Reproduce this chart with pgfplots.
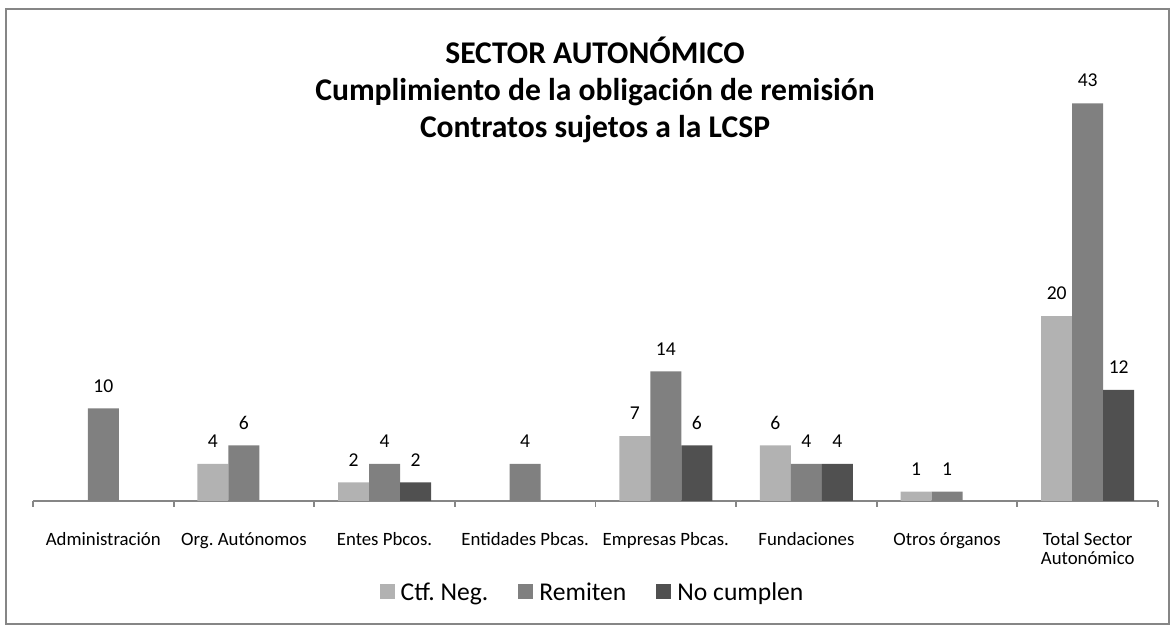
\documentclass[border=0pt]{standalone}
\usepackage{fontspec}
\setmainfont{Carlito}
\usepackage{pgfplots}
\pgfplotsset{compat=1.18}
\definecolor{cA}{RGB}{178,178,178}
\definecolor{cB}{RGB}{128,128,128}
\definecolor{cC}{RGB}{80,80,80}
\definecolor{frame}{RGB}{134,134,134}
\begin{document}
\frenchspacing
\begin{tikzpicture}[x=1pt,y=1pt]
\useasboundingbox (0,0) rectangle (587,313.5);
\draw[color=frame, line width=1.25pt] (3,1.5) rectangle (584.5,309);
\node[align=center, font=\bfseries\fontsize{15.8}{18.5}\selectfont] at (297.5,268.5)
  {SECTOR AUTONÓMICO\\Cumplimiento de la obligación de remisión\\Contratos sujetos a la LCSP};
\begin{axis}[
  at={(16.5pt,63pt)}, anchor=south west,
  scale only axis, width=562.5pt, height=222pt,
  xmin=-0.5, xmax=7.5, ymin=0, ymax=48,
  axis y line=none, axis x line*=bottom,
  x axis line style={color=frame, line width=0.9pt},
  ybar, bar width=0.2204,
  xtick={0,...,7},
  xticklabels={Administración,Org. Autónomos,Entes Pbcos.,Entidades Pbcas.,Empresas Pbcas.,Fundaciones,Otros órganos,{Total Sector\\Autonómico}},
  xticklabel style={font=\fontsize{9.4}{9.6}\selectfont, align=center, yshift=-12.3pt},
  major tick length=0pt,
  minor xtick={-0.5,0.5,...,7.5},
  minor tick length=3pt,
  tick align=outside,
  minor tick style={color=frame, line width=0.9pt},
  /pgf/number format/assume math mode=true,
  nodes near coords,
  every node near coord/.append style={font=\fontsize{9.8}{11}\selectfont, color=black, yshift=4.6pt},
  legend columns=3,
  legend style={draw=none, at={(0.4965,-0.2072)}, anchor=center, font=\fontsize{12.8}{14}\selectfont,
    nodes={inner sep=0pt},
    /tikz/every odd column/.append style={column sep=3pt},
    /tikz/every even column/.append style={column sep=15pt}},
  legend image code/.code={\fill[#1] (0pt,-3pt) rectangle (7.5pt,4.5pt);},
]
\addplot[fill=cA, draw=none, bar shift=-0.2204] coordinates {(1,4) (2,2) (4,7) (5,6) (6,1) (7,20)};
\addplot[fill=cB, draw=none, bar shift=0] coordinates {(0,10) (1,6) (2,4) (3,4) (4,14) (5,4) (6,1) (7,43)};
\addplot[fill=cC, draw=none, bar shift=0.2204] coordinates {(2,2) (4,6) (5,4) (7,12)};
\legend{Ctf. Neg.,Remiten,No cumplen}
\end{axis}
\end{tikzpicture}
\end{document}
